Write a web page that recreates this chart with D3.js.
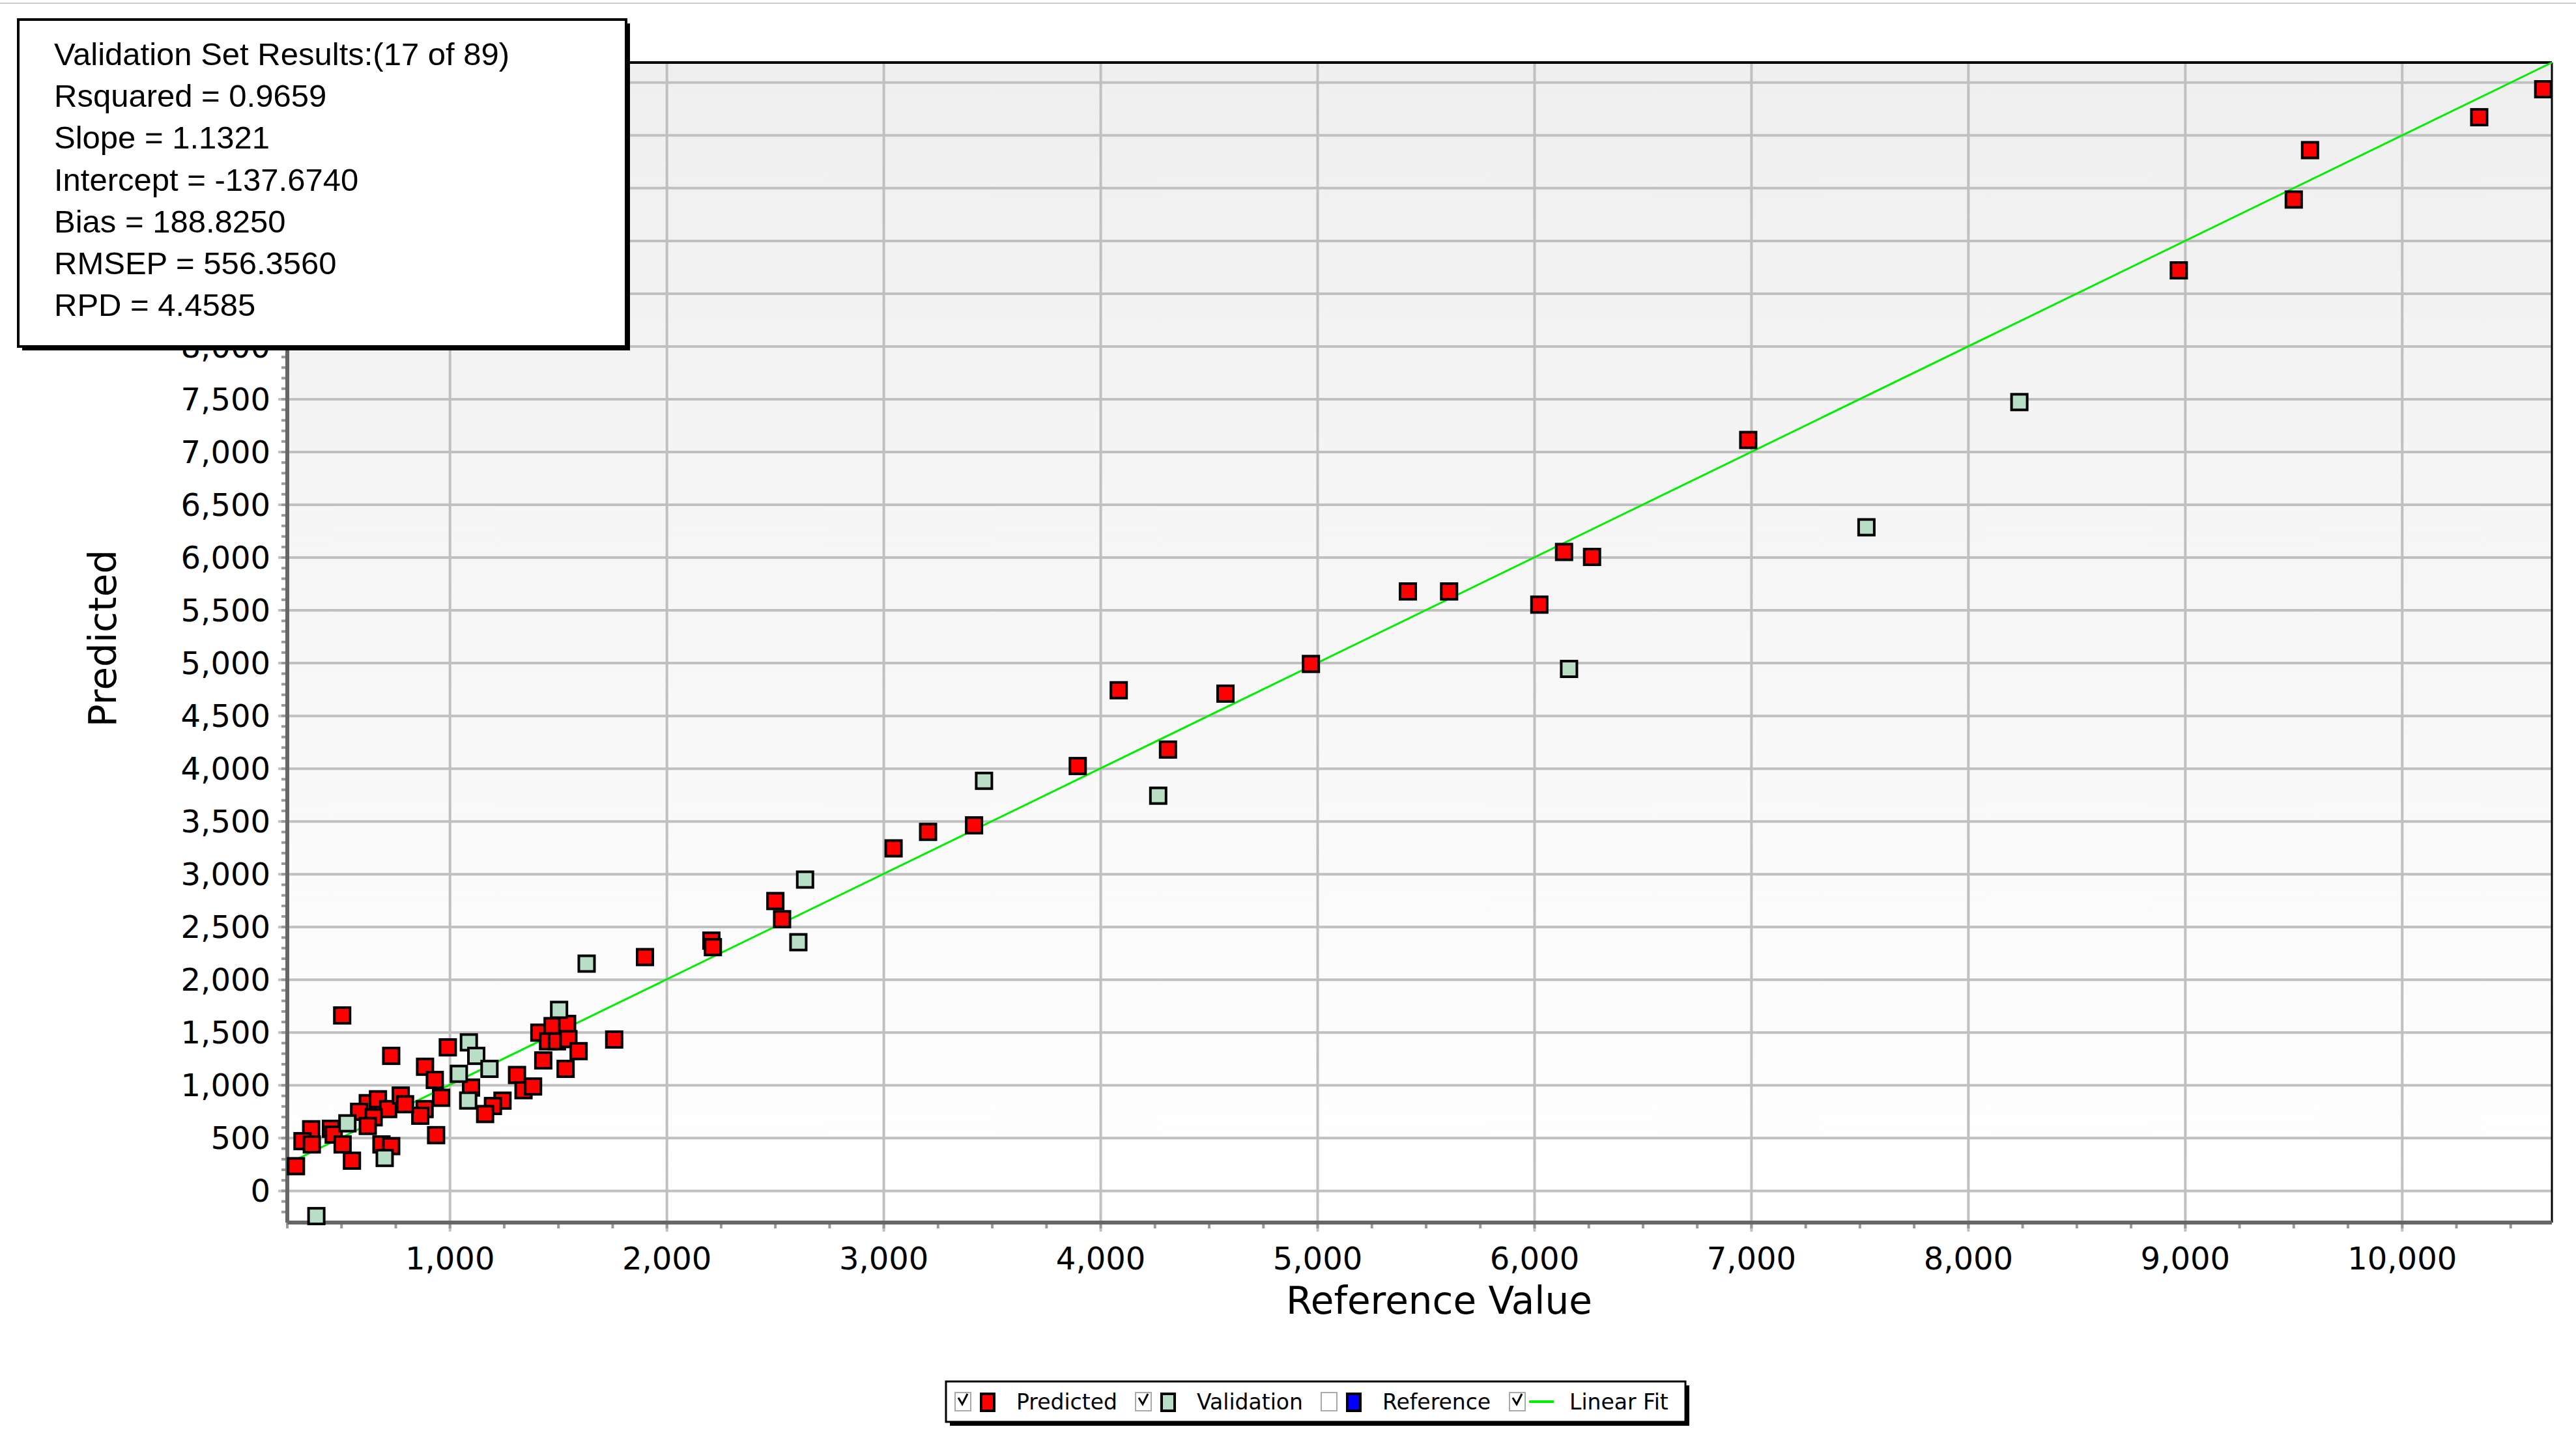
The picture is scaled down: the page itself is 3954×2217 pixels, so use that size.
<!DOCTYPE html>
<html><head><meta charset="utf-8">
<script src="https://cdn.jsdelivr.net/npm/d3@7"></script>
<style>body{margin:0;background:#fff}</style>
</head><body>
<script>
// predicted (calibration) points: [reference, predicted]
var predRef = [10650,10355,9575,9500,8970,6985,6136,6265,5416,5606,6022,4969,4575,4083,4310,3894,3416,3204,3045,2500,2531,2205,2212,
  503,1412,1473,1540,1452,1493,1546,1593,1757,1430,1533,1309,1339,1383,1242,1198,1162,
  990,729,885,930,1097,959,883,863,936,621,668,715,773,793,581,648,621,360,451,464,320,363,505,684,729,548,290,1899];
var predVal = [10437,10172,9860,9392,8721,7114,6053,6006,5679,5679,5554,4992,4711,4743,4181,4025,3463,3401,3245,2746,2574,2371,2309,
  1662,1499,1561,1582,1417,1417,1438,1324,1434,1236,1156,1098,954,989,855,804,728,
  1360,1279,1176,1051,979,882,775,712,528,831,868,775,903,821,749,697,615,584,588,533,471,440,440,440,424,286,234,2215];
// validation points
var valRef = [8235,7530,6159,4265,3462,2637,2606,1630,1503,1087,1121,1182,1041,1084,527,699,384];
var valVal = [7473,6287,4945,3744,3885,2949,2356,2153,1715,1407,1279,1156,1109,856,640,312,-239];
var fitX = [290,10690];
var fitY = [296,10690];
var statLines = ["Validation Set Results:(17 of 89)","Rsquared = 0.9659","Slope = 1.1321","Intercept = -137.6740",
  "Bias = 188.8250","RMSEP = 556.3560","RPD = 4.4585"];
var legendItems = [
  {name:"Predicted", kind:"sq", color:"#ff0000", checked:true},
  {name:"Validation", kind:"sq", color:"#b8dfc5", checked:true},
  {name:"Reference", kind:"sq", color:"#0000ff", checked:false},
  {name:"Linear Fit", kind:"line", color:"#00ee00", checked:true}];

var W = 3954, H = 2217;
var L = 441, R = 3917, T = 96, B = 1877;
var svg = d3.select("body").append("svg").attr("width", W).attr("height", H)
  .style("font-family", "'DejaVu Sans', Verdana, sans-serif");

var x = d3.scaleLinear().domain([250, 10690]).range([L, R]);
var y = d3.scaleLinear().domain([-300, 10690]).range([B, T]);

var grad = svg.append("defs").append("linearGradient").attr("id","bg").attr("x1",0).attr("y1",0).attr("x2",0).attr("y2",1);
grad.append("stop").attr("offset","0%").attr("stop-color","#efefef");
grad.append("stop").attr("offset","100%").attr("stop-color","#ffffff");

svg.append("line").attr("x1",0).attr("x2",W).attr("y1",5).attr("y2",5).attr("stroke","#ccc").attr("stroke-width",2);
svg.append("rect").attr("x",L).attr("y",T).attr("width",R-L).attr("height",B-T).attr("fill","url(#bg)");

// grid
svg.append("g").selectAll("line").data(d3.range(1000, 10691, 1000)).join("line")
  .attr("x1", d => x(d)).attr("x2", d => x(d)).attr("y1", T).attr("y2", B + 14)
  .attr("stroke", "#c0c0c0").attr("stroke-width", 4);
svg.append("g").selectAll("line").data(d3.range(0, 10691, 500)).join("line")
  .attr("y1", d => y(d)).attr("y2", d => y(d)).attr("x1", L - 14).attr("x2", R)
  .attr("stroke", "#c0c0c0").attr("stroke-width", 4);
// minor ticks
svg.append("g").selectAll("line").data(d3.range(250, 10691, 250)).join("line")
  .attr("x1", d => x(d)).attr("x2", d => x(d)).attr("y1", B).attr("y2", B + 9)
  .attr("stroke", "#999").attr("stroke-width", 4);
svg.append("g").selectAll("line").data(d3.range(-200, 10691, 100)).join("line")
  .attr("y1", d => y(d)).attr("y2", d => y(d)).attr("x1", L - 9).attr("x2", L)
  .attr("stroke", "#999").attr("stroke-width", 4);

// axes lines
svg.append("line").attr("x1",L).attr("x2",R).attr("y1",T).attr("y2",T).attr("stroke","#000").attr("stroke-width",4);
svg.append("line").attr("x1",R).attr("x2",R).attr("y1",T).attr("y2",B).attr("stroke","#000").attr("stroke-width",3);
svg.append("line").attr("x1",L).attr("x2",L).attr("y1",T).attr("y2",B).attr("stroke","#666").attr("stroke-width",6);
svg.append("line").attr("x1",L).attr("x2",R).attr("y1",B).attr("y2",B).attr("stroke","#666").attr("stroke-width",6);

var fmt = d3.format(",");
svg.append("g").selectAll("text").data(d3.range(1000, 10691, 1000)).join("text")
  .attr("x", d => x(d)).attr("y", B + 72).attr("text-anchor","middle").attr("font-size",48).text(fmt);
// labels above 8,000 are hidden by the stats box in the reference
svg.append("g").selectAll("text").data(d3.range(0, 8001, 500)).join("text")
  .attr("x", L - 26).attr("y", d => y(d) + 17).attr("text-anchor","end").attr("font-size",48).text(fmt);
svg.append("text").attr("x", (L+R)/2 + 30).attr("y", 2017).attr("text-anchor","middle").attr("font-size",58).text("Reference Value");
svg.append("text").attr("transform","translate(178,980) rotate(-90)").attr("text-anchor","middle").attr("font-size",58).text("Predicted");

// fit line
svg.append("line").attr("x1", x(fitX[0])).attr("y1", y(fitY[0])).attr("x2", x(fitX[1])).attr("y2", y(fitY[1]))
  .attr("stroke","#00ee00").attr("stroke-width",3);

var s = 24;
function pts(xs, ys, color) {
  svg.append("g").selectAll("rect").data(xs).join("rect")
    .attr("x", (d,i) => x(d) - s/2).attr("y", (d,i) => y(ys[i]) - s/2)
    .attr("width", s).attr("height", s).attr("fill", color).attr("stroke","#000").attr("stroke-width",4);
}
pts(predRef, predVal, "#ff0000");
pts(valRef, valVal, "#b8dfc5");

// stats box
svg.append("rect").attr("x",34).attr("y",36).attr("width",933).attr("height",502).attr("fill","#000");
svg.append("rect").attr("x",28).attr("y",30).attr("width",933).attr("height",502).attr("fill","#fff").attr("stroke","#000").attr("stroke-width",4);
svg.append("g").selectAll("text").data(statLines).join("text")
  .attr("x", 83).attr("y", (d,i) => 100 + i*64.2).attr("font-size",49)
  .attr("font-family","'Liberation Sans', Arial, sans-serif").text(d => d);

// legend
var lg = svg.append("g");
lg.append("rect").attr("x",1458).attr("y",2127).attr("width",1135).attr("height",62).attr("fill","#000");
lg.append("rect").attr("x",1452).attr("y",2121).attr("width",1135).attr("height",62).attr("fill","#fff").attr("stroke","#000").attr("stroke-width",3);
var lx = [1466, 1743, 2028, 2317];
legendItems.forEach(function(it, i) {
  var g = lg.append("g").attr("transform","translate(" + lx[i] + ",0)");
  g.append("rect").attr("x",0).attr("y",2138).attr("width",24).attr("height",28).attr("fill","#fff").attr("stroke","#aaa").attr("stroke-width",2);
  if (it.checked) g.append("path").attr("d","M5,2146 L11,2156 L19,2140").attr("fill","none").attr("stroke","#000").attr("stroke-width",3);
  if (it.kind === "sq") g.append("rect").attr("x",40).attr("y",2140).attr("width",20).attr("height",26).attr("fill",it.color).attr("stroke","#000").attr("stroke-width",4);
  else g.append("line").attr("x1",30).attr("x2",68).attr("y1",2152).attr("y2",2152).attr("stroke",it.color).attr("stroke-width",4);
  g.append("text").attr("x", it.kind === "sq" ? 94 : 92).attr("y",2164).attr("font-size",33).text(it.name);
});
</script>
</body></html>
